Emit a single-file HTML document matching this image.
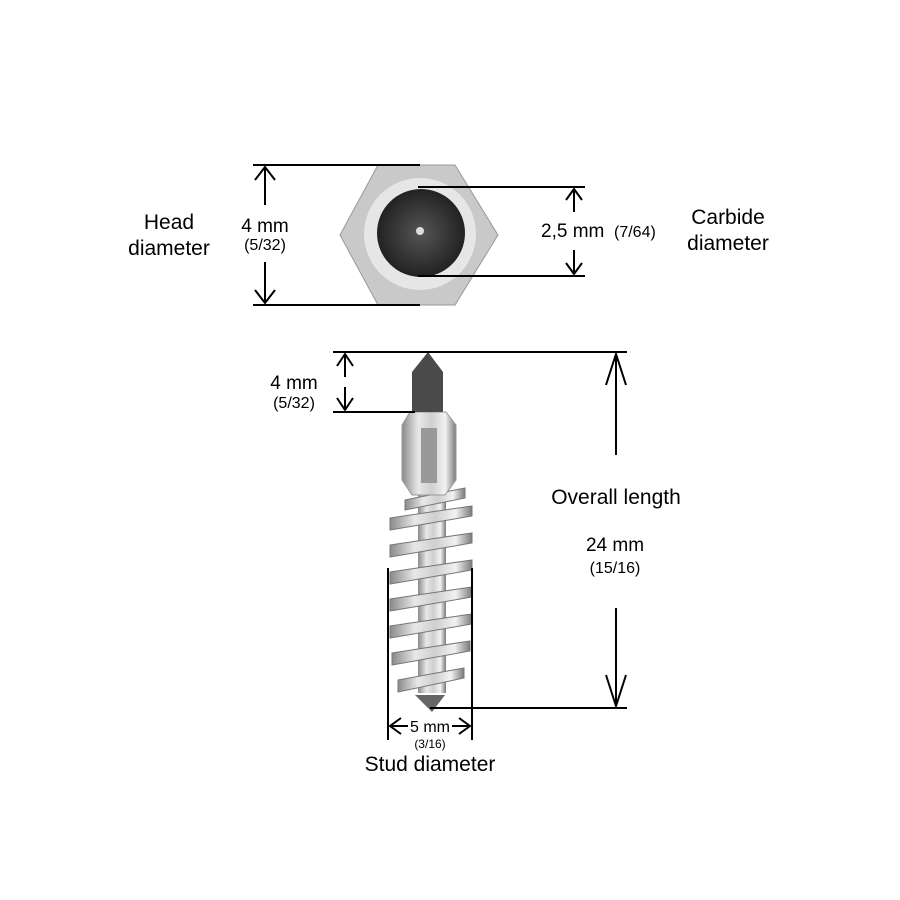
<!DOCTYPE html>
<html><head><style>body{margin:0;background:#fff}svg{display:block}text{font-family:"Liberation Sans",sans-serif;fill:#000}</style></head><body>
<svg width="900" height="900" viewBox="0 0 900 900">
<defs>
<linearGradient id="m" x1="0" x2="1"><stop offset="0" stop-color="#8a8a8a"/><stop offset="0.3" stop-color="#e8e8e8"/><stop offset="0.55" stop-color="#cfcfcf"/><stop offset="0.8" stop-color="#f2f2f2"/><stop offset="1" stop-color="#7a7a7a"/></linearGradient>
<radialGradient id="c"><stop offset="0" stop-color="#555"/><stop offset="1" stop-color="#222"/></radialGradient>
</defs>
<!-- head -->
<polygon points="378,165 455,165 498,235 455,305 378,305 340,235" fill="#c9c9c9" stroke="#999"/>
<circle cx="420" cy="234" r="56" fill="#e6e6e6"/>
<circle cx="421" cy="233" r="44" fill="url(#c)"/>
<circle cx="420" cy="231" r="4" fill="#ddd"/>
<g stroke="#000" stroke-width="2" fill="none">
<line x1="253" y1="165" x2="420" y2="165"/><line x1="253" y1="305" x2="420" y2="305"/>
<line x1="265" y1="167" x2="265" y2="205"/><line x1="265" y1="262" x2="265" y2="303"/>
<polyline points="255,180 265,167 275,180"/><polyline points="255,290 265,303 275,290"/>
<line x1="418" y1="187" x2="585" y2="187"/><line x1="418" y1="276" x2="585" y2="276"/>
<line x1="574" y1="189" x2="574" y2="212"/><line x1="574" y1="250" x2="574" y2="274"/>
<polyline points="566,200 574,189 582,200"/><polyline points="566,263 574,274 582,263"/>
</g>
<text x="169" y="229" font-size="21" text-anchor="middle">Head</text>
<text x="169" y="255" font-size="21" text-anchor="middle">diameter</text>
<text x="265" y="232" font-size="19" text-anchor="middle">4 mm</text>
<text x="265" y="250" font-size="16" text-anchor="middle">(5/32)</text>
<text x="541" y="237" font-size="19">2,5 mm</text>
<text x="614" y="237" font-size="16">(7/64)</text>
<text x="728" y="224" font-size="21" text-anchor="middle">Carbide</text>
<text x="728" y="250" font-size="21" text-anchor="middle">diameter</text>
<!-- stud -->
<rect x="418" y="493" width="28" height="200" fill="url(#m)"/>
<g fill="url(#m)" stroke="#777" stroke-width="1">
<polygon points="390,518 472,506 472,516 390,530"/>
<polygon points="390,545 472,533 472,543 390,557"/>
<polygon points="390,572 472,560 472,570 390,584"/>
<polygon points="390,599 472,587 472,597 390,611"/>
<polygon points="390,626 472,614 472,624 390,638"/>
<polygon points="392,653 470,641 470,651 392,665"/>
<polygon points="398,680 464,668 464,678 398,692"/>
<polygon points="405,500 465,488 465,498 405,510"/>
</g>
<polygon points="415,695 445,695 432,712" fill="#666"/>
<path d="M402,425 L410,412 L446,412 L456,425 L456,480 L445,495 L412,495 L402,480 Z" fill="url(#m)" stroke="#999"/>
<rect x="421" y="428" width="16" height="55" fill="#999"/>
<path d="M412,412 L412,372 L428,352 L443,372 L443,412 Z" fill="#4a4a4a"/>
<g stroke="#000" stroke-width="2" fill="none">
<line x1="333" y1="352" x2="627" y2="352"/><line x1="333" y1="412" x2="415" y2="412"/>
<line x1="345" y1="354" x2="345" y2="377"/><line x1="345" y1="387" x2="345" y2="410"/>
<polyline points="337,366 345,354 353,366"/><polyline points="337,398 345,410 353,398"/>
<line x1="616" y1="354" x2="616" y2="455"/><line x1="616" y1="608" x2="616" y2="706"/>
<polyline points="606,385 616,354 626,385"/><polyline points="606,675 616,706 626,675"/>
<line x1="430" y1="708" x2="627" y2="708"/>
<line x1="388" y1="568" x2="388" y2="740"/><line x1="472" y1="568" x2="472" y2="740"/>
<line x1="390" y1="726" x2="408" y2="726"/><line x1="452" y1="726" x2="470" y2="726"/>
<polyline points="401,718 390,726 401,734"/><polyline points="459,718 470,726 459,734"/>
</g>
<text x="294" y="389" font-size="19" text-anchor="middle">4 mm</text>
<text x="294" y="408" font-size="16" text-anchor="middle">(5/32)</text>
<text x="616" y="504" font-size="21" text-anchor="middle">Overall length</text>
<text x="615" y="551" font-size="19" text-anchor="middle">24 mm</text>
<text x="615" y="573" font-size="16" text-anchor="middle">(15/16)</text>
<text x="430" y="732" font-size="16" text-anchor="middle">5 mm</text>
<text x="430" y="748" font-size="12" text-anchor="middle">(3/16)</text>
<text x="430" y="771" font-size="21" text-anchor="middle">Stud diameter</text>
</svg>
</body></html>
